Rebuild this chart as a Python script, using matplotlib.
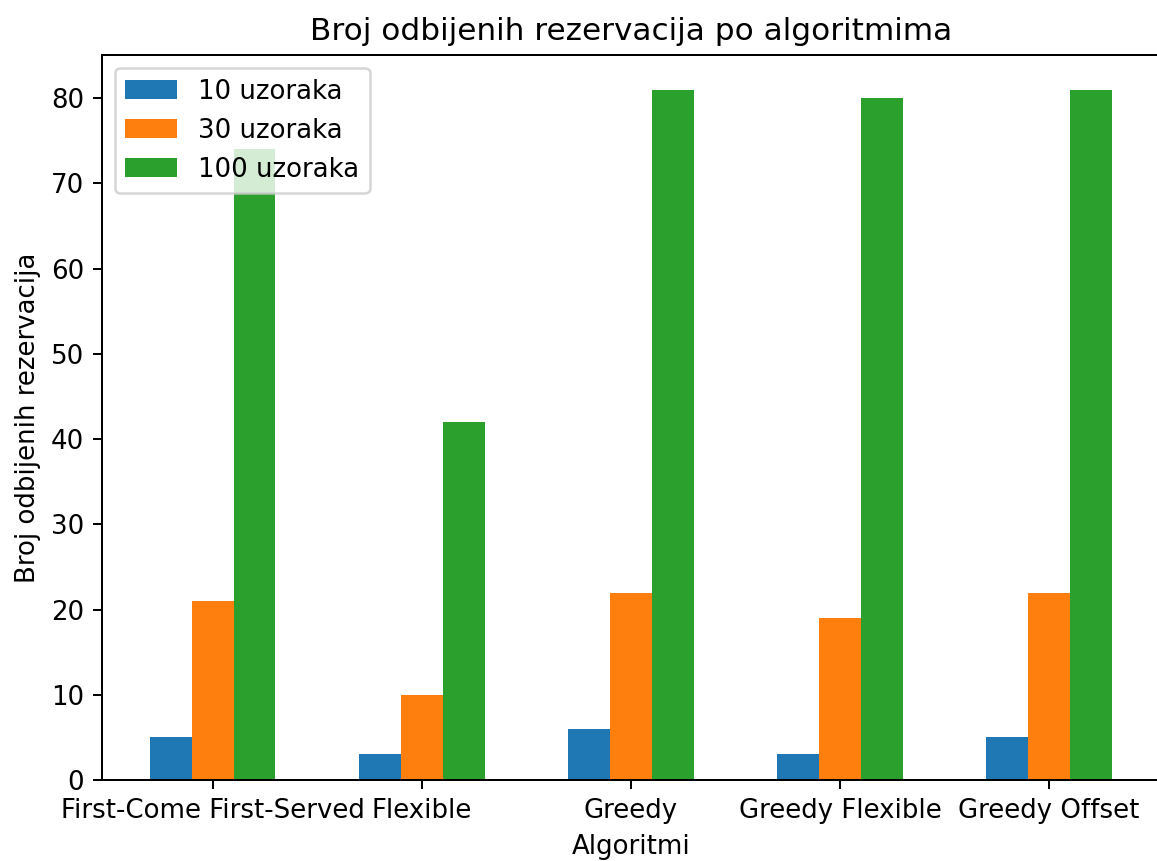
import numpy as np
import matplotlib
matplotlib.use("Agg")
import matplotlib.pyplot as plt

algoritmi = ["First-Come First-Served", "Flexible", "Greedy", "Greedy Flexible", "Greedy Offset"]
serije = ["10 uzoraka", "30 uzoraka", "100 uzoraka"]
odbijeno_10 = [5, 3, 6, 3, 5]
odbijeno_30 = [21, 10, 22, 19, 22]
odbijeno_100 = [74, 42, 81, 80, 81]

plt.rcParams['font.size'] = 10.4

x = np.arange(len(algoritmi))
w = 0.2

fig, ax = plt.subplots(figsize=(1157 / 180, 861 / 180), dpi=180)
for k, (vals, lab) in enumerate(zip([odbijeno_10, odbijeno_30, odbijeno_100], serije)):
    ax.bar(x + (k - 1) * w, vals, w, label=lab)

ax.set_xticks(x)
ax.set_xticklabels(algoritmi)
ax.set_xlabel("Algoritmi")
ax.set_ylabel("Broj odbijenih rezervacija")
ax.set_title("Broj odbijenih rezervacija po algoritmima")
ax.legend(loc="upper left")

# the original image is cropped on the right, right spine falls outside
fig.subplots_adjust(left=0.088, right=1.0026, top=0.936, bottom=0.094)
fig.savefig("out.png", dpi=180)
